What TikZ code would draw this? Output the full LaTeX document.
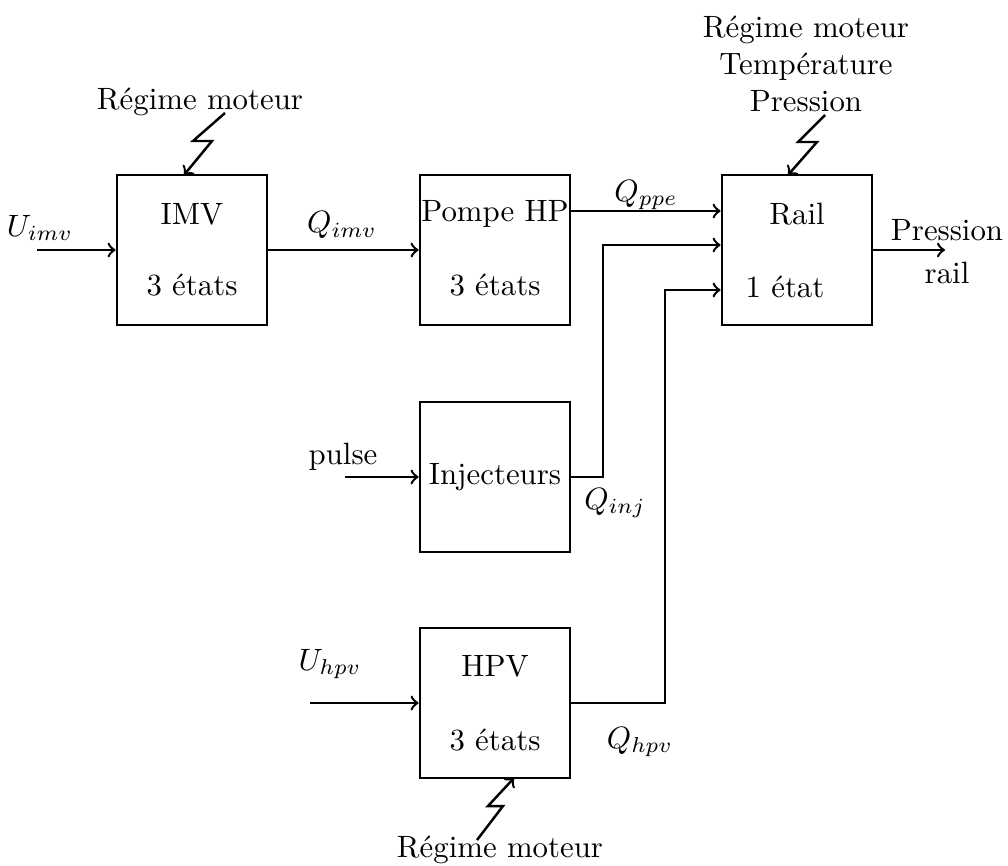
\documentclass[tikz,border=0pt]{standalone}
\usetikzlibrary{calc}
\begin{document}
\begin{tikzpicture}[x=0.0114cm,y=-0.0114cm,
  blockbox/.style={draw,line width=0.9pt,minimum width=150*0.0114cm,minimum height=150*0.0114cm,inner sep=0pt},
  conn/.style={line width=0.8pt,->},
  txt/.style={inner sep=0pt,anchor=center}]
\useasboundingbox (0,0) rectangle (1008,865);
% blocks
\node[blockbox] (imv) at (192,250) {};
\node[blockbox] (pompe) at (495,250) {};
\node[blockbox] (rail) at (797,250) {};
\node[blockbox] (inj) at (495,477) {};
\node[blockbox] (hpv) at (495,703) {};
% block texts
\node[txt] (timv1) at (192,214) {IMV};
\node[txt] (timv2) at (192,285) {3 états};
\node[txt] (tp1) at (495,214) {Pompe HP};
\node[txt] (tp2) at (495,285) {3 états};
\node[txt] (tr1) at (797,214) {Rail};
\node[txt] (tr2) at (785,287) {1 état};
\node[txt] (ti) at (495,477) {Injecteurs};
\node[txt] (th1) at (495,666) {HPV};
\node[txt] (th2) at (495,740) {3 états};
% labels
\node[txt] (luimv) at (40,228) {$U_{imv}$};
\node[txt] (lqimv) at (342,225) {$Q_{imv}$};
\node[txt] (lqppe) at (646,195) {$Q_{ppe}$};
\node[txt] (lqinj) at (615,503) {$Q_{inj}$};
\node[txt] (lqhpv) at (640,742) {$Q_{hpv}$};
\node[txt] (luhpv) at (330,664) {$U_{hpv}$};
\node[txt] (lpulse) at (343,457) {pulse};
\node[txt,align=center] (lpres) at (947,252) {Pression\\[2pt]rail};
\node[txt] (lreg1) at (200,102) {Régime moteur};
\node[txt,align=center] (lreg2) at (806,64) {Régime moteur\\Température\\Pression};
\node[txt] (lreg3) at (500,850) {Régime moteur};
% free ends
\coordinate (a0) at (37,250);
\coordinate (p0) at (345,477);
\coordinate (h0) at (310,703);
\coordinate (r1) at (945,250);
% connectors
\draw[conn] (a0) -- (imv.west);
\draw[conn] (imv.east) -- (pompe.west);
\draw[conn] (p0) -- (inj.west);
\draw[conn] (h0) -- (hpv.west);
\draw[conn] (rail.east) -- (r1);
\draw[conn] ($(pompe.east)+(0,-39)$) -- ($(rail.west)+(0,-39)$);
\draw[conn] (inj.east) -- (603,477) -- (603,245) -- ($(rail.west)+(0,-5)$);
\draw[conn] (hpv.east) -- (665,703) -- (665,290) -- ($(rail.west)+(0,40)$);
% lightning arrows
\draw[conn] (225,113) -- (193,141) -- (212,141) -- (184,175);
\draw[conn] (825,115) -- (798,142) -- (817,142) -- (788,175);
\draw[conn] (477,840) -- (503,806) -- (488,806) -- (514,778);
\end{tikzpicture}
\end{document}
